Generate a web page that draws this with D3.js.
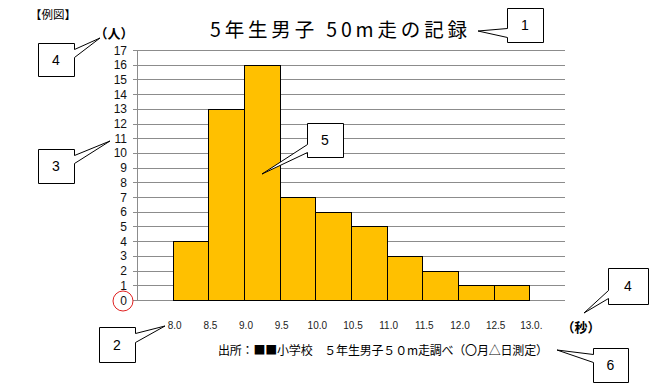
<!DOCTYPE html>
<html><head><meta charset="utf-8">
<script src="https://cdn.jsdelivr.net/npm/d3@7"></script>
<style>
html,body{margin:0;padding:0;background:#fff;}
svg{display:block;}
</style></head>
<body>
<script>
const title = "5年生男子 50m走の記録";
const binStarts = [8.0, 8.5, 9.0, 9.5, 10.0, 10.5, 11.0, 11.5, 12.0, 12.5];
const counts = [4, 13, 16, 7, 6, 5, 3, 2, 1, 1];
const xTickValues = [8.0, 8.5, 9.0, 9.5, 10.0, 10.5, 11.0, 11.5, 12.0, 12.5, 13.0];
const xTickLabels = ["8.0", "8.5", "9.0", "9.5", "10.0", "10.5", "11.0", "11.5", "12.0", "12.5", "13.0."];
const yTicks = d3.range(0, 18);
const binWidth = 0.5;
const source = "出所：■■小学校　５年生男子５０m走調べ（〇月△日測定）";

const W = 661, H = 386;
const svg = d3.select("body").append("svg").attr("width", W).attr("height", H);
const jp = "'Noto Sans CJK JP', 'Noto Sans', sans-serif";
const lat = "'Liberation Sans', Arial, sans-serif";

const x = d3.scaleLinear().domain([7.5, 13.5]).range([137, 565]);
const y = d3.scaleLinear().domain([0, 17]).range([300, 50]);

// gridlines
svg.append("g").selectAll("line").data(yTicks).join("line")
  .attr("x1", 133).attr("x2", 565)
  .attr("y1", d => Math.round(y(d)) + 0.5).attr("y2", d => Math.round(y(d)) + 0.5)
  .attr("stroke", "#8c8c8c").attr("stroke-width", 1);
// y axis line
svg.append("line").attr("x1", 137.5).attr("x2", 137.5).attr("y1", y(17)).attr("y2", y(0))
  .attr("stroke", "#8c8c8c");

// y tick labels
svg.append("g").selectAll("text").data(yTicks).join("text")
  .attr("x", 127).attr("y", d => y(d) + 4.5)
  .attr("text-anchor", "end").attr("font-family", lat).attr("font-size", 12)
  .attr("fill", "#111").text(d => d);

// bars
svg.append("g").selectAll("rect").data(counts).join("rect")
  .attr("x", (d, i) => Math.round(x(binStarts[i])) + 0.5)
  .attr("width", (d, i) => Math.round(x(binStarts[i] + binWidth)) - Math.round(x(binStarts[i])))
  .attr("y", d => Math.round(y(d)) + 0.5)
  .attr("height", d => Math.round(y(0)) - Math.round(y(d)))
  .attr("fill", "#ffc000").attr("stroke", "#000").attr("stroke-width", 1);

// x tick labels
svg.append("g").selectAll("text").data(xTickValues).join("text")
  .attr("x", d => x(d) + 2).attr("y", 329)
  .attr("text-anchor", "middle").attr("font-family", lat)
  .attr("font-size", 10).attr("fill", "#222")
  .text((d, i) => xTickLabels[i]);

// red circle around 0
svg.append("circle").attr("cx", 123).attr("cy", 301).attr("r", 10)
  .attr("fill", "none").attr("stroke", "#e02020").attr("stroke-width", 1);

// title
svg.append("text").attr("x", 210).attr("y", 37)
  .attr("font-family", jp).attr("font-size", 19.5).attr("fill", "#000")
  .attr("textLength", 257).attr("lengthAdjust", "spacing").text(title);

// texts
svg.append("text").attr("x", 30).attr("y", 19).attr("font-family", jp).attr("font-size", 11.5)
  .attr("fill", "#000").text("【例図】");
svg.append("text").attr("x", 114).attr("y", 38).attr("text-anchor", "middle").attr("font-family", jp)
  .attr("font-size", 13).attr("font-weight", "bold").attr("fill", "#000").text("（人）");
svg.append("text").attr("x", 581).attr("y", 332).attr("text-anchor", "middle").attr("font-family", jp)
  .attr("font-size", 13).attr("font-weight", "bold").attr("fill", "#000").text("（秒）");
svg.append("text").attr("x", 218).attr("y", 355).attr("font-family", jp).attr("font-size", 12)
  .attr("fill", "#000").attr("textLength", 330).attr("lengthAdjust", "spacing").text(source);

// callouts: box, side of wedge, wedge attach points, tip
function callout(bx, by, bw, bh, side, a, b, tip, label) {
  const x0 = bx + 0.5, y0 = by + 0.5, x1 = bx + bw + 0.5, y1 = by + bh + 0.5;
  const [tx, ty] = tip;
  let p;
  if (side === "left") {
    p = `M${x0},${y0} H${x1} V${y1} H${x0} V${b + 0.5} L${tx},${ty} L${x0},${a + 0.5} Z`;
  } else {
    p = `M${x0},${y0} H${x1} V${a + 0.5} L${tx},${ty} L${x1},${b + 0.5} V${y1} H${x0} Z`;
  }
  svg.append("path").attr("d", p).attr("fill", "#fff").attr("stroke", "#000").attr("stroke-width", 1);
  svg.append("text").attr("x", bx + bw / 2).attr("y", by + bh / 2 + 5)
    .attr("text-anchor", "middle").attr("font-family", lat)
    .attr("font-size", 14).attr("fill", "#000").text(label);
}
callout(507, 8, 36, 34, "left", 28, 37, [478, 31], "1");
callout(38, 43, 36, 33, "right", 49, 57, [100, 38], "4");
callout(38, 149, 36, 34, "right", 155, 163, [110, 141], "3");
callout(99, 327, 36, 35, "right", 333, 342, [165, 326], "2");
callout(608, 268, 40, 36, "left", 290, 298, [584, 313], "4");
callout(593, 348, 35, 34, "left", 354, 362, [557, 350], "6");
callout(307, 123, 36, 34, "left", 144, 152, [262, 174], "5");
</script>
</body></html>
